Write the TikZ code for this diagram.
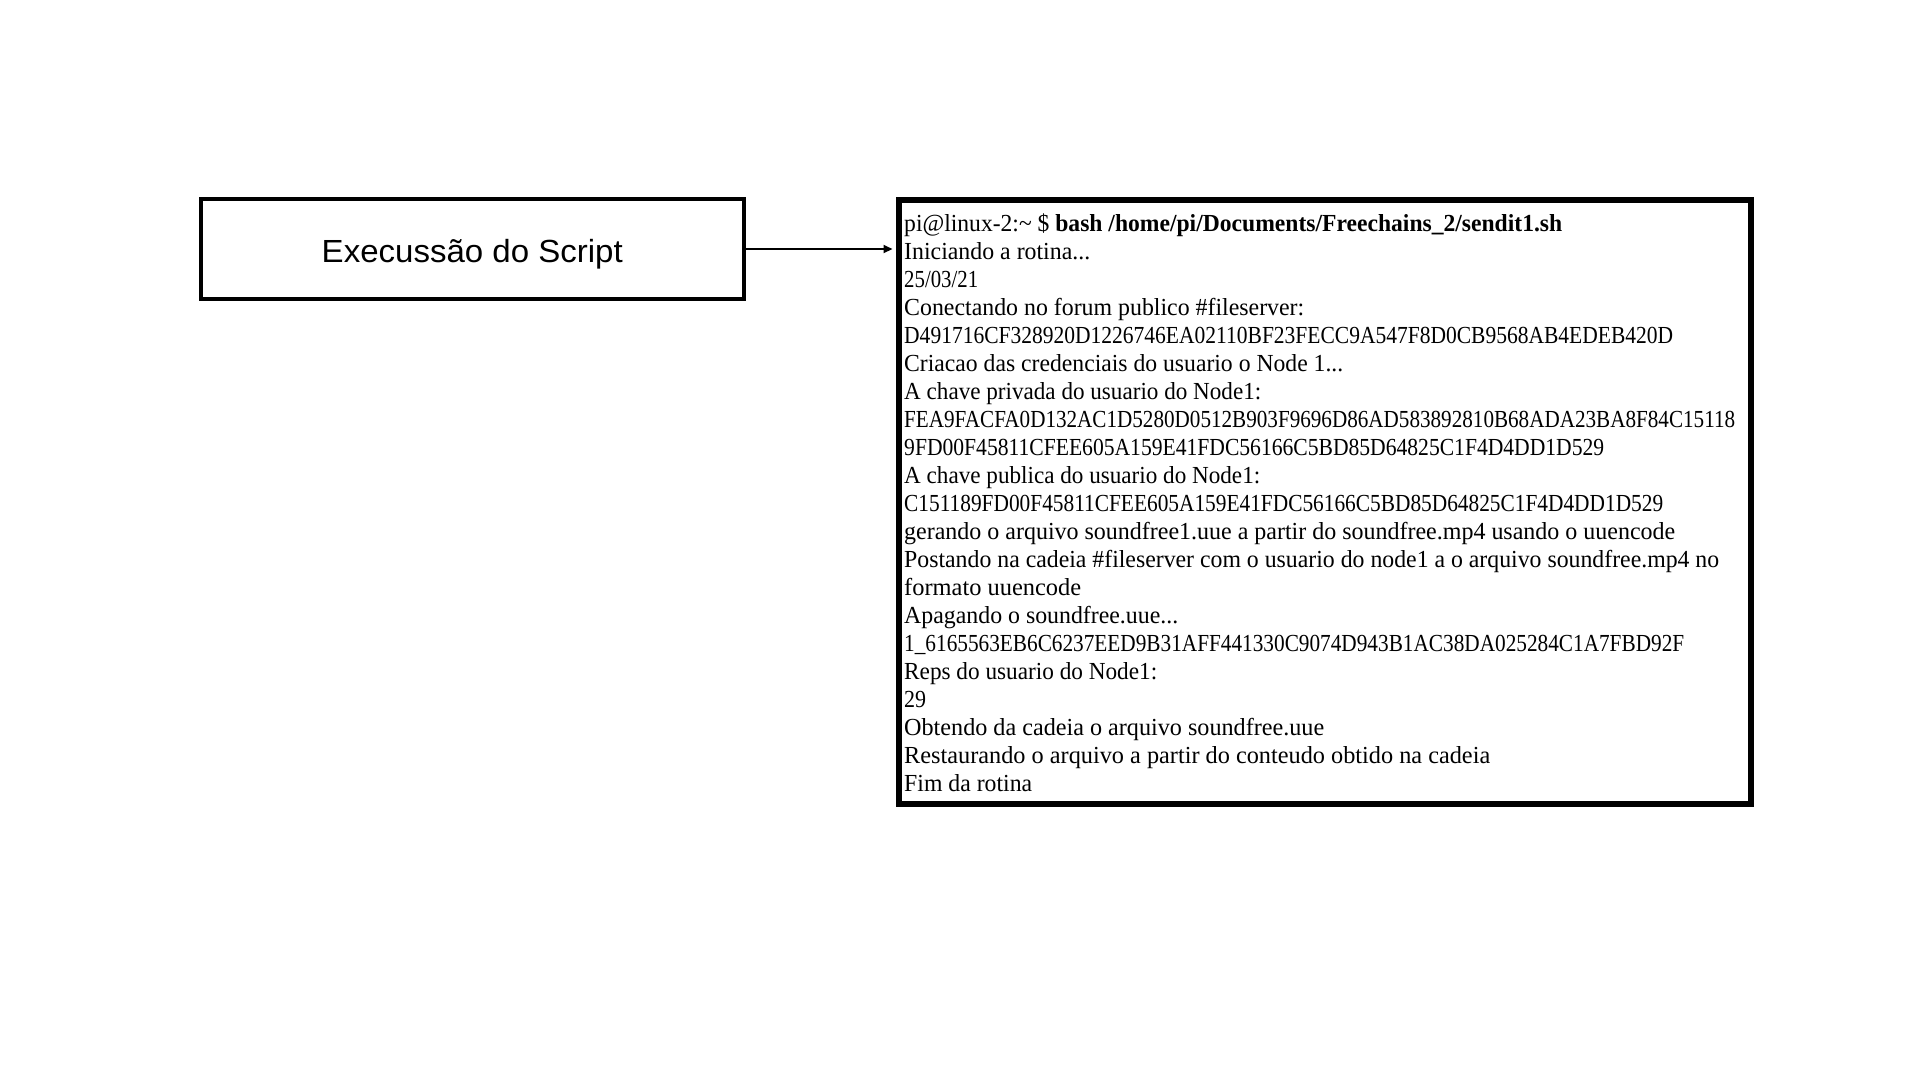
\documentclass[tikz,border=0pt]{standalone}
\usepackage{fontspec}
\setmainfont{Liberation Serif}
\setsansfont{Liberation Sans}
\usepackage{graphicx}
\usetikzlibrary{arrows.meta}
\newcommand\tline[2]{\resizebox{#1pt}{\height}{#2}}
\tikzset{
  scriptbox/.style={draw, line width=4pt, minimum width=543.5pt, minimum height=100pt, inner sep=0pt,
    font=\sffamily\fontsize{32}{38}\selectfont, text height=30pt, text depth=4pt},
  termbox/.style={draw, line width=6pt, minimum width=852pt, minimum height=603.5pt, inner sep=0pt},
  termtext/.style={anchor=north west, inner sep=0pt, align=left, font=\fontsize{24.5}{28}\selectfont},
  conn/.style={line width=2pt, -{Triangle[length=9pt,width=8pt]}, shorten >=3pt}
}
\begin{document}
\begin{tikzpicture}[x=1pt,y=-1pt]
\useasboundingbox[fill=white] (0,0) rectangle (1920,1080);
\node[scriptbox] (script) at (472.25,249) {\tline{301}{Execussão do Script}};
\node[termbox] (term) at (1324.5,501.75) {};
\node[termtext] (log) at (904,209) {%
\rule{0pt}{22pt}\tline{658}{pi@linux-2:\textasciitilde{} \$ {\bfseries bash /home/pi/Documents/Freechains\_2/sendit1.sh}}\\
\tline{186}{Iniciando a rotina...}\\
\tline{74}{25/03/21}\\
\tline{400}{Conectando no forum publico \#fileserver:}\\
\tline{769}{D491716CF328920D1226746EA02110BF23FECC9A547F8D0CB9568AB4EDEB420D}\\
\tline{439}{Criacao das credenciais do usuario o Node 1...}\\
\tline{357}{A chave privada do usuario do Node1:}\\
\tline{831}{FEA9FACFA0D132AC1D5280D0512B903F9696D86AD583892810B68ADA23BA8F84C15118}\\
\tline{700}{9FD00F45811CFEE605A159E41FDC56166C5BD85D64825C1F4D4DD1D529}\\
\tline{356}{A chave publica do usuario do Node1:}\\
\tline{759}{C151189FD00F45811CFEE605A159E41FDC56166C5BD85D64825C1F4D4DD1D529}\\
\tline{771}{gerando o arquivo soundfree1.uue a partir do soundfree.mp4 usando o uuencode}\\
\tline{815}{Postando na cadeia \#fileserver com o usuario do node1 a o arquivo soundfree.mp4 no}\\
\tline{177}{formato uuencode}\\
\tline{274}{Apagando o soundfree.uue...}\\
\tline{780}{1\_6165563EB6C6237EED9B31AFF441330C9074D943B1AC38DA025284C1A7FBD92F}\\
\tline{253}{Reps do usuario do Node1:}\\
\tline{22}{29}\\
\tline{420}{Obtendo da cadeia o arquivo soundfree.uue}\\
\tline{586}{Restaurando o arquivo a partir do conteudo obtido na cadeia}\\
\tline{128}{Fim da rotina}};
\draw[conn] (script.east) -- (script.east -| term.west);
\end{tikzpicture}
\end{document}
